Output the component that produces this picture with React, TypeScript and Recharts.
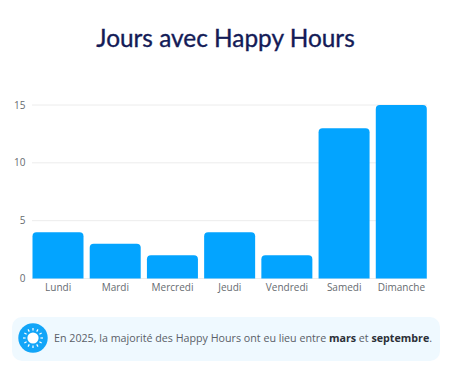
import { BarChart, Bar, XAxis, YAxis, CartesianGrid } from 'recharts'

const DAYS = ['Lundi', 'Mardi', 'Mercredi', 'Jeudi', 'Vendredi', 'Samedi', 'Dimanche']
const COUNTS = [4, 3, 2, 4, 2, 13, 15]
const Y_TICKS = [0, 5, 10, 15]
const RAYS = [0, 30, 60, 90, 120, 150, 180, 210, 240, 270, 300, 330]

const data = DAYS.map((day, i) => ({ day, count: COUNTS[i] }))

const tickStyle = { fontSize: 10, fill: '#666b70', fontFamily: '"Open Sans", sans-serif' }

function SunIcon() {
  return (
    <svg width={30} height={30} viewBox="0 0 30 30" style={{ position: 'absolute', left: 18, top: 323 }}>
      <circle cx={15} cy={15} r={14.7} fill="#12a5f8" />
      <circle cx={15} cy={15} r={5.6} fill="#fff" />
      {RAYS.map(a => (
        <line
          key={a}
          x1={15}
          y1={7.6}
          x2={15}
          y2={5}
          stroke="#fff"
          strokeWidth={1.2}
          transform={`rotate(${a} 15 15)`}
        />
      ))}
    </svg>
  )
}

export default function App() {
  return (
    <div style={{ position: 'absolute', left: 0, top: 0, width: 463, height: 376, background: '#fff', overflow: 'hidden' }}>
      <div
        style={{
          position: 'absolute',
          left: 0,
          width: 451,
          top: 23,
          textAlign: 'center',
          fontFamily: 'Lato, sans-serif',
          fontWeight: 400,
          fontSize: 24.4,
          lineHeight: '30px',
          color: '#141b57',
          WebkitTextStroke: '0.35px #141b57',
        }}
      >
        Jours avec Happy Hours
      </div>

      <div style={{ position: 'absolute', left: 0, top: 0 }}>
        <BarChart
          width={463}
          height={376}
          data={data}
          margin={{ top: 105, right: 33, bottom: 0, left: 0 }}
          barCategoryGap={3}
        >
          <CartesianGrid vertical={false} stroke="#ececec" strokeWidth={1} x={32} width={395} />
          <XAxis
            dataKey="day"
            height={97.5}
            axisLine={false}
            tickLine={false}
            tick={tickStyle}
            tickSize={0}
            tickMargin={5}
            interval={0}
          />
          <YAxis
            width={29.5}
            domain={[0, 15]}
            ticks={Y_TICKS}
            axisLine={false}
            tickLine={false}
            tick={tickStyle}
            tickSize={0}
            tickMargin={4}
          />
          <Bar dataKey="count" fill="#03a4ff" radius={[4, 4, 0, 0]} isAnimationActive={false} />
        </BarChart>
      </div>

      <div style={{ position: 'absolute', left: 12, top: 317, width: 428, height: 44, borderRadius: 10, background: '#eff9ff' }} />
      <SunIcon />
      <div
        style={{
          position: 'absolute',
          left: 54,
          top: 330,
          whiteSpace: 'nowrap',
          fontFamily: '"Open Sans", sans-serif',
          fontSize: 10.7,
          lineHeight: '16px',
          color: '#5a6068',
        }}
      >
        En 2025, la majorité des Happy Hours ont eu lieu entre <b style={{ color: '#2b3038' }}>mars</b> et{' '}
        <b style={{ color: '#2b3038' }}>septembre</b>.
      </div>
    </div>
  )
}
